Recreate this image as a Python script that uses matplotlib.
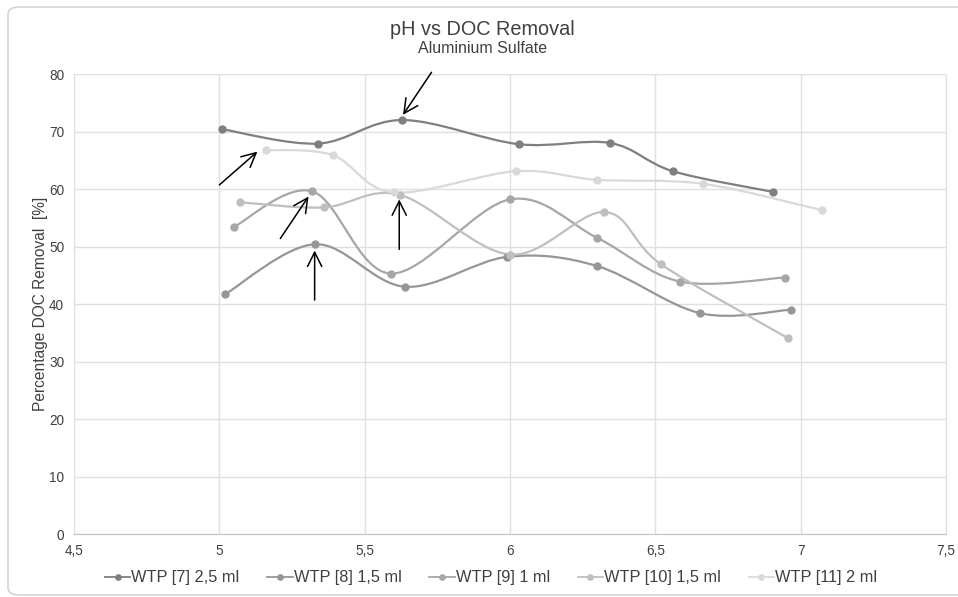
import numpy as np
import matplotlib.pyplot as plt
from matplotlib.path import Path
from matplotlib.patches import PathPatch, FancyBboxPatch
from matplotlib.lines import Line2D
from matplotlib.ticker import FuncFormatter

plt.rcParams['font.family'] = ['Liberation Sans', 'DejaVu Sans']

# pH / DOC removal (%)
ph7 = [5.01, 5.34, 5.63, 6.03, 6.345, 6.56, 6.905]
doc7 = [70.4, 67.9, 72.0, 67.8, 68.0, 63.1, 59.5]
ph8 = [5.02, 5.33, 5.64, 5.99, 6.30, 6.655, 6.965]
doc8 = [41.7, 50.4, 43.0, 48.2, 46.6, 38.4, 39.0]
ph9 = [5.05, 5.32, 5.59, 6.00, 6.30, 6.585, 6.945]
doc9 = [53.4, 59.6, 45.3, 58.2, 51.5, 43.9, 44.6]
ph10 = [5.07, 5.36, 5.62, 6.00, 6.325, 6.52, 6.955]
doc10 = [57.7, 56.8, 59.0, 48.6, 56.0, 46.9, 34.1]
ph11 = [5.16, 5.39, 5.60, 6.02, 6.30, 6.665, 7.075]
doc11 = [66.8, 65.9, 59.4, 63.1, 61.6, 60.9, 56.3]

labels = ['WTP [7] 2,5 ml', 'WTP [8] 1,5 ml', 'WTP [9] 1 ml',
          'WTP [10] 1,5 ml', 'WTP [11] 2 ml']
colors = ['#7f7f7f', '#969696', '#a6a6a6', '#bfbfbf', '#d9d9d9']

# arrows: (tail, tip)
arrows = [((5.73, 80.3), (5.632, 72.9)),
          ((5.00, 60.7), (5.131, 66.5)),
          ((5.21, 51.4), (5.307, 58.7)),
          ((5.328, 40.7), (5.328, 49.3)),
          ((5.619, 49.5), (5.619, 58.2))]


def smooth_path(x, y):
    # excel-like smoothing: catmull-rom as cubic bezier
    pts = np.column_stack([x, y])
    n = len(pts)
    verts = [pts[0]]
    codes = [Path.MOVETO]
    for i in range(n - 1):
        p0 = pts[i - 1] if i > 0 else pts[i]
        p1 = pts[i]
        p2 = pts[i + 1]
        p3 = pts[i + 2] if i + 2 < n else pts[i + 1]
        c1 = p1 + (p2 - p0) / 6.0
        c2 = p2 - (p3 - p1) / 6.0
        verts += [c1, c2, p2]
        codes += [Path.CURVE4] * 3
    return Path(verts, codes)


fig = plt.figure(figsize=(9.58, 5.97), dpi=100)
ax = fig.add_axes([0.0772, 0.1055, 0.9103, 0.7705])

series = [(ph7, doc7), (ph8, doc8), (ph9, doc9), (ph10, doc10), (ph11, doc11)]
for (x, y), c in zip(series, colors):
    ax.add_patch(PathPatch(smooth_path(x, y), fill=False, edgecolor=c,
                           lw=1.6, zorder=3))
    ax.plot(x, y, 'o', color=c, markersize=5, zorder=4)

for tail, tip in arrows:
    ax.annotate('', xy=tip, xytext=tail, annotation_clip=False,
                arrowprops=dict(arrowstyle='->, head_length=0.6, head_width=0.3',
                                color='black', lw=1.1, mutation_scale=17,
                                shrinkA=0, shrinkB=0), zorder=5)

ax.set_xlim(4.5, 7.5)
ax.set_ylim(0, 80)
ax.set_xticks(np.arange(4.5, 7.51, 0.5))
ax.set_yticks(np.arange(0, 81, 10))
ax.xaxis.set_major_formatter(FuncFormatter(lambda v, p: ('%g' % v).replace('.', ',')))
ax.grid(True, color='#e0e0e0', lw=1)
ax.set_axisbelow(True)
for s in ['top', 'right', 'left']:
    ax.spines[s].set_color('#e0e0e0')
ax.spines['bottom'].set_color('#c4c4c4')
ax.tick_params(length=0, labelsize=9.8, labelcolor='#404040', pad=7)
ax.set_ylabel('Percentage DOC Removal  [%]', fontsize=11.2, color='#404040', labelpad=1)

fig.text(0.504, 0.951, 'pH vs DOC Removal', ha='center', va='center',
         fontsize=14.3, color='#404040')
fig.text(0.504, 0.918, 'Aluminium Sulfate', ha='center', va='center',
         fontsize=11.5, color='#404040')

handles = [Line2D([], [], color=c, lw=1.3, marker='o', markersize=3.8) for c in colors]
fig.legend(handles, labels, loc='center', bbox_to_anchor=(0.5125, 0.032), ncol=5,
           frameon=False, fontsize=11.8, handlelength=1.55, handletextpad=0.05,
           columnspacing=1.7, labelcolor='#404040')

fig.patches.append(FancyBboxPatch((8 / 958, 2 / 597), 1.05, 588 / 597,
                                  boxstyle='round,pad=0,rounding_size=0.012',
                                  transform=fig.transFigure, fill=False,
                                  edgecolor='#cccccc', lw=1))

fig.savefig('out.png', dpi=100)
